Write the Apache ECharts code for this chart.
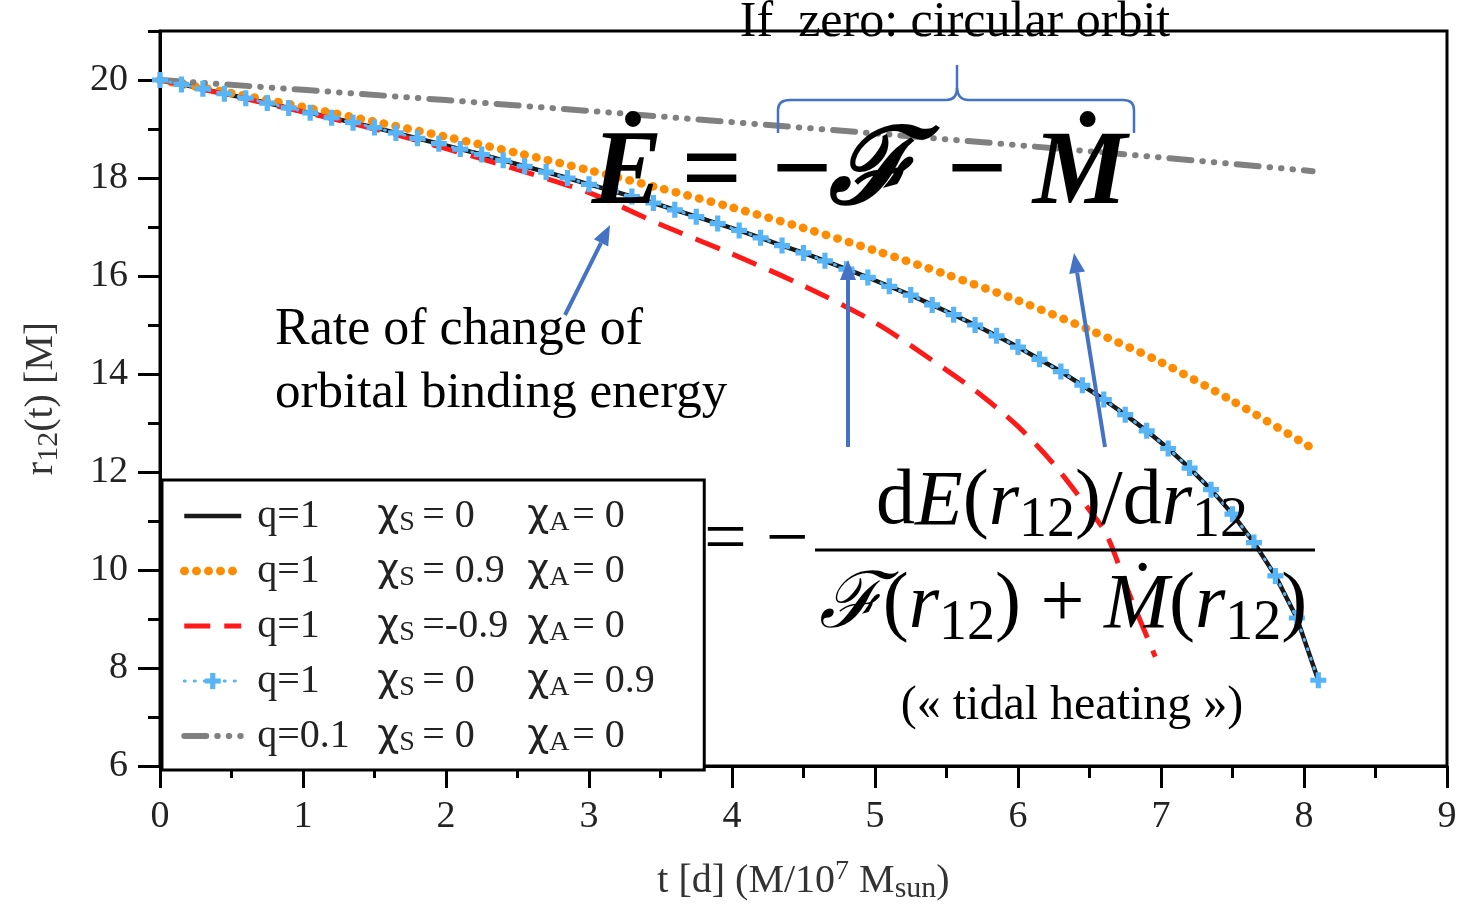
<!DOCTYPE html>
<html>
<head>
<meta charset="utf-8">
<script src="https://cdn.jsdelivr.net/npm/echarts@6/dist/echarts.min.js"></script>
<style>
html, body { margin: 0; padding: 0; background: #fff; }
#main { width: 1473px; height: 909px; }
</style>
</head>
<body>
<div id="main"></div>
<script>
// time grid of the q=1 runs (markers of the chi_A curve sit on these)
var tGrid = [0, 0.15, 0.3, 0.45, 0.6, 0.75, 0.9, 1.05, 1.2, 1.35, 1.5, 1.65, 1.8, 1.95,
    2.1, 2.25, 2.4, 2.55, 2.7, 2.85, 3.0, 3.15, 3.3, 3.45, 3.6, 3.75, 3.9, 4.05, 4.2,
    4.35, 4.5, 4.65, 4.8, 4.95, 5.1, 5.25, 5.4, 5.55, 5.7, 5.85, 6.0, 6.15, 6.3, 6.45,
    6.6, 6.75, 6.9, 7.05, 7.2, 7.35, 7.5, 7.65, 7.8, 7.95, 8.1];
// q=1, chiS=0, chiA=0
var rBlack = [20.00, 19.91, 19.82, 19.72, 19.63, 19.53, 19.43, 19.33, 19.23, 19.13, 19.03,
    18.92, 18.81, 18.70, 18.59, 18.48, 18.36, 18.24, 18.12, 18.00, 17.87, 17.75, 17.62,
    17.49, 17.35, 17.21, 17.07, 16.93, 16.78, 16.62, 16.47, 16.31, 16.14, 15.97, 15.79,
    15.61, 15.41, 15.21, 15.00, 14.78, 14.55, 14.30, 14.05, 13.77, 13.48, 13.17, 12.84,
    12.48, 12.08, 11.64, 11.14, 10.56, 9.88, 9.02, 7.75];
// q=1, chiS=0, chiA=0.9 (lies on top of the black curve)
var rBlue = [20.00, 19.91, 19.82, 19.72, 19.63, 19.53, 19.43, 19.33, 19.23, 19.13, 19.03,
    18.92, 18.81, 18.70, 18.59, 18.48, 18.36, 18.24, 18.12, 18.00, 17.87, 17.75, 17.62,
    17.49, 17.35, 17.21, 17.07, 16.93, 16.78, 16.62, 16.47, 16.31, 16.14, 15.97, 15.79,
    15.61, 15.41, 15.21, 15.00, 14.78, 14.55, 14.30, 14.05, 13.77, 13.48, 13.17, 12.84,
    12.48, 12.08, 11.64, 11.14, 10.56, 9.88, 9.02, 7.75];
// q=1, chiS=0.9
var tOrange = [0, 0.5, 1, 1.5, 2, 2.5, 3, 3.5, 4, 4.5, 5, 5.5, 6, 6.5, 7, 7.5, 8.06];
var rOrange = [20, 19.73, 19.45, 19.15, 18.84, 18.51, 18.16, 17.79, 17.40, 16.98, 16.52,
    16.03, 15.50, 14.90, 14.24, 13.45, 12.48];
// q=1, chiS=-0.9
var tRed = [0, 0.5, 1, 1.5, 2, 2.5, 3, 3.5, 4, 4.5, 5, 5.5, 5.75, 6, 6.25, 6.5, 6.62, 6.78, 6.96];
var rRed = [20, 19.68, 19.35, 19.0, 18.6, 18.17, 17.7, 17.05, 16.45, 15.8, 15.05, 14.08,
    13.55, 12.93, 12.16, 11.22, 10.72, 9.5, 8.23];
// q=0.1
var tGrey = [0, 1, 2, 3, 4, 5, 6, 7, 8.06];
var rGrey = [20, 19.80, 19.59, 19.37, 19.14, 18.91, 18.67, 18.42, 18.14];

var seriesNames = ['s1', 's2', 's3', 's4', 's5'];
var legendQ = ['q=1', 'q=1', 'q=1', 'q=1', 'q=0.1'];
var legendChiS = ['= 0', '= 0.9', '=-0.9', '= 0', '= 0'];
var legendChiA = ['= 0', '= 0', '= 0', '= 0.9', '= 0'];

var yTicks = [6, 8, 10, 12, 14, 16, 18, 20];
var yMinorTicks = [7, 9, 11, 13, 15, 17, 19, 21];

var SERIF = '"Liberation Serif", "DejaVu Serif", serif';
var BLUE = '#4472c4';
var CROSS = 'path://M2.7,0H5.3V2.7H8V5.3H5.3V8H2.7V5.3H0V2.7H2.7Z';

function pairs(xs, ys) {
    return xs.map(function (x, i) { return [x, ys[i]]; });
}

function arrow(x1, y1, x2, y2) {
    var a = Math.atan2(y2 - y1, x2 - x1);
    var hl = 20, hw = 8;
    var bx = x2 - hl * Math.cos(a), by = y2 - hl * Math.sin(a);
    var nx = -Math.sin(a) * hw, ny = Math.cos(a) * hw;
    return [
        { type: 'line', z: 60, shape: { x1: x1, y1: y1, x2: bx, y2: by },
          style: { stroke: BLUE, lineWidth: 4 } },
        { type: 'polygon', z: 60, shape: { points: [[x2, y2], [bx + nx, by + ny], [bx - nx, by - ny]] },
          style: { fill: BLUE } }
    ];
}

function seg(x1, y1, x2, y2) {
    return { type: 'line', z: 60, shape: { x1: x1, y1: y1, x2: x2, y2: y2 },
             style: { stroke: BLUE, lineWidth: 2.5 } };
}
function curve(x1, y1, cx, cy, x2, y2) {
    return { type: 'bezierCurve', z: 60, shape: { x1: x1, y1: y1, cpx1: cx, cpy1: cy, x2: x2, y2: y2 },
             style: { stroke: BLUE, lineWidth: 2.5, fill: null } };
}

function txt(text, x, y, size, align, extra) {
    var st = { text: text, x: x, y: y, fontSize: size, fontFamily: SERIF, fill: '#000',
               align: align || 'left', verticalAlign: 'middle' };
    for (var k in extra) st[k] = extra[k];
    return { type: 'text', z: 70, style: st };
}

var mathRich = {
    u: { fontSize: 78, fontFamily: SERIF, lineHeight: 84 },
    i: { fontSize: 78, fontFamily: SERIF, fontStyle: 'italic', lineHeight: 84 },
    s: { fontSize: 56, fontFamily: SERIF, lineHeight: 56, padding: [36, 0, 0, 0] }
};

// curly brace over "-F - M"
var brace = [
    seg(778, 133, 778, 110), curve(778, 110, 778, 100, 790, 100), seg(790, 100, 946, 100),
    curve(946, 100, 957, 100, 957, 88), seg(957, 88, 957, 65),
    curve(957, 88, 958, 100, 968, 100), seg(968, 100, 1123, 100),
    curve(1123, 100, 1134, 100, 1134, 110), seg(1134, 110, 1134, 133)
];

var BOLD = { fontWeight: 'bold' };
var BOLD_IT = { fontWeight: 'bold', fontStyle: 'italic' };

var graphics = [
    txt('If  zero: circular orbit', 955, 23, 50, 'center'),
    txt('Ė', 627, 176, 106, 'center', BOLD_IT),
    txt('=', 712, 176, 106, 'center', BOLD),
    txt('−', 802, 176, 106, 'center', BOLD),
    txt('ℱ', 872, 176, 106, 'center', BOLD_IT),
    txt('−', 977, 176, 106, 'center', BOLD),
    txt('Ṁ', 1080, 176, 106, 'center', BOLD_IT),
    txt('Rate of change of', 275, 330, 52, 'left'),
    txt('orbital binding energy', 275, 394, 51, 'left'),
    txt('(« tidal heating »)', 1072, 706, 48, 'center'),
    txt('= −', 704, 542, 76, 'left'),
    txt('{u|d}{i|E}{u|(}{i|r}{s|12}{u|)/d}{i|r}{s|12}', 1062, 503, 78, 'center', { rich: mathRich }),
    txt('{i|ℱ}{u|(}{i|r}{s|12}{u|) + }{i|Ṁ}{u|(}{i|r}{s|12}{u|)}', 1063, 606, 78, 'center', { rich: mathRich }),
    { type: 'line', z: 70, shape: { x1: 815, y1: 550, x2: 1315, y2: 550 },
      style: { stroke: '#000', lineWidth: 3 } }
].concat(brace, arrow(565, 315, 610, 225), arrow(848, 447, 848, 260), arrow(1105, 447, 1074, 253));

var chart = echarts.init(document.getElementById('main'));
var option = {
    animation: false,
    backgroundColor: '#fff',
    grid: { left: 160, right: 26, top: 31, bottom: 137, show: true,
            borderColor: '#000', borderWidth: 3, backgroundColor: 'transparent' },
    xAxis: {
        type: 'value', min: 0, max: 9, interval: 1,
        axisLine: { show: true, lineStyle: { color: '#000', width: 3 } },
        axisTick: { show: true, length: 22, lineStyle: { color: '#000', width: 3 } },
        minorTick: { show: true, splitNumber: 2, length: 12, lineStyle: { color: '#000', width: 3 } },
        splitLine: { show: false },
        axisLabel: { margin: 32, fontSize: 38, fontFamily: SERIF, color: '#222' },
        name: '{a|t [d] (M/10}{p|7}{a| M}{b|sun}{a|)}',
        nameLocation: 'middle', nameGap: 92,
        nameTextStyle: { rich: {
            a: { fontSize: 40, fontFamily: SERIF, color: '#333', lineHeight: 46 },
            p: { fontSize: 28, fontFamily: SERIF, color: '#333', lineHeight: 28, padding: [0, 0, 18, 0] },
            b: { fontSize: 30, fontFamily: SERIF, color: '#333', lineHeight: 30, padding: [16, 0, 0, 0] }
        } }
    },
    yAxis: [{
        type: 'value', min: 6, max: 21, interval: 2,
        axisLine: { show: true, lineStyle: { color: '#000', width: 3 } },
        axisTick: { show: true, length: 22, lineStyle: { color: '#000', width: 3 }, customValues: yTicks },
        splitLine: { show: false },
        axisLabel: { margin: 32, fontSize: 38, fontFamily: SERIF, color: '#222', customValues: yTicks },
        name: '{a|r}{b|12}{a|(t) [M]}',
        nameLocation: 'middle', nameGap: 96, nameRotate: 90,
        nameTextStyle: { rich: {
            a: { fontSize: 40, fontFamily: SERIF, color: '#333', lineHeight: 46 },
            b: { fontSize: 30, fontFamily: SERIF, color: '#333', lineHeight: 30, padding: [16, 0, 0, 0] }
        } }
    }, {
        type: 'value', min: 6, max: 21, position: 'left',
        axisLine: { show: false },
        axisTick: { show: true, length: 12, lineStyle: { color: '#000', width: 3 }, customValues: yMinorTicks },
        axisLabel: { show: false },
        splitLine: { show: false }
    }],
    legend: {
        orient: 'vertical', left: 162, top: 480, z: 50,
        padding: [15, 22, 13, 18], itemWidth: 57, itemHeight: 20, itemGap: 13,
        backgroundColor: '#fff', borderColor: '#000', borderWidth: 3,
        lineStyle: { width: 'inherit' },
        data: [
            { name: 's1', itemStyle: { opacity: 0 } },
            { name: 's2', itemStyle: { opacity: 0 } },
            { name: 's3', itemStyle: { opacity: 0 } },
            { name: 's4' },
            { name: 's5', itemStyle: { opacity: 0 } }
        ],
        formatter: function (name) {
            var i = seriesNames.indexOf(name);
            return '{q|' + legendQ[i] + '}{x|χ}{s|S}{v|' + legendChiS[i] + '}{x|χ}{s|A}{w|' + legendChiA[i] + '}';
        },
        textStyle: { rich: {
            q: { fontSize: 40, fontFamily: SERIF, color: '#222', width: 120, padding: [0, 0, 0, 11], lineHeight: 40 },
            x: { fontSize: 38, fontFamily: '"DejaVu Sans", sans-serif', color: '#222', width: 22, lineHeight: 40 },
            s: { fontSize: 28, fontFamily: SERIF, color: '#222', width: 23, lineHeight: 26, padding: [14, 0, 0, 0] },
            v: { fontSize: 40, fontFamily: SERIF, color: '#222', width: 105, lineHeight: 40 },
            w: { fontSize: 40, fontFamily: SERIF, color: '#222', width: 110, lineHeight: 40 }
        } }
    },
    series: [
        { name: 's1', type: 'line', data: pairs(tGrid, rBlack), symbol: 'none', z: 3,
          lineStyle: { color: '#1a1a1a', width: 4.5 }, itemStyle: { color: '#1a1a1a' } },
        { name: 's2', type: 'line', data: pairs(tOrange, rOrange), symbol: 'none', smooth: 0.3, z: 4,
          lineStyle: { color: '#ff8c00', width: 8.5, type: [0.5, 11.5], cap: 'round' }, itemStyle: { color: '#ff8c00' } },
        { name: 's3', type: 'line', data: pairs(tRed, rRed), symbol: 'none', smooth: 0.3, z: 4,
          lineStyle: { color: '#ff1a1a', width: 5, type: [26, 14] }, itemStyle: { color: '#ff1a1a' } },
        { name: 's4', type: 'line', data: pairs(tGrid, rBlue), z: 5,
          symbol: CROSS, symbolSize: 16, showAllSymbol: true,
          lineStyle: { color: '#56b4f7', width: 3, type: [1, 9], cap: 'round' }, itemStyle: { color: '#56b4f7' } },
        { name: 's5', type: 'line', data: pairs(tGrey, rGrey), symbol: 'none', z: 4,
          lineStyle: { color: '#808080', width: 6, type: [22, 11, 0.5, 11, 0.5, 11, 0.5, 11], cap: 'round' },
          itemStyle: { color: '#808080' } }
    ],
    graphic: graphics
};
chart.setOption(option);
</script>
</body>
</html>
